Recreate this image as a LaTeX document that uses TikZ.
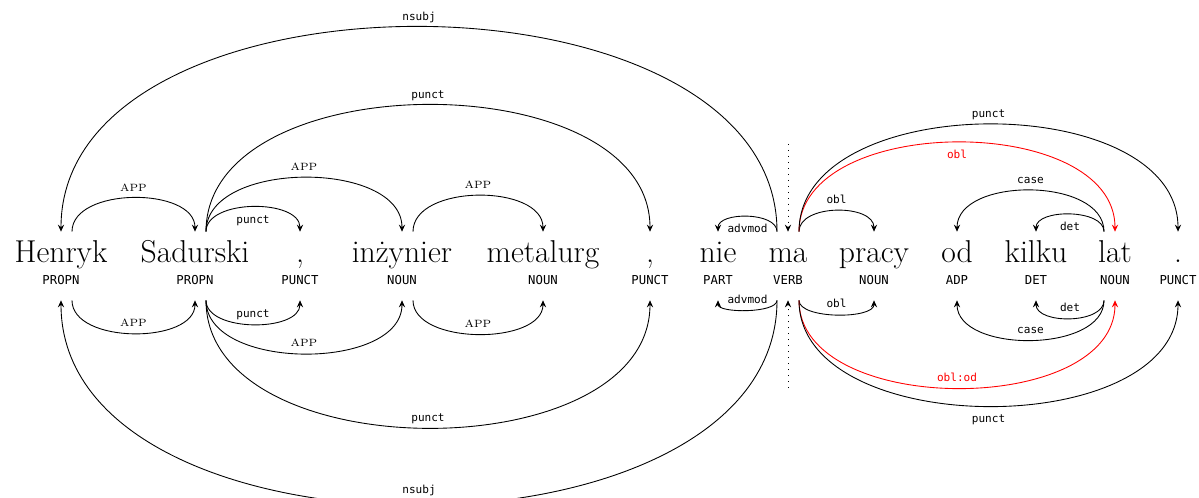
\documentclass[tikz,border=0pt]{standalone}
\usepackage{fontspec}
\newfontfamily\depmono{DejaVu Sans Mono}
\usetikzlibrary{arrows.meta}

\tikzset{
  word/.style={anchor=base, inner sep=0pt, text height=0.62cm, font=\fontsize{18}{21}\selectfont},
  tag/.style={anchor=base, inner sep=0pt, text depth=0.3cm, font=\depmono\fontsize{7}{8}\selectfont},
  dep/.style={line width=0.5pt, -{Stealth[length=4pt,width=3.6pt,inset=1.4pt]}},
  lab/.style={inner sep=2.5pt, text height=1.5ex, text depth=.25ex, font=\depmono\fontsize{6.3}{7}\selectfont},
  applab/.style={inner sep=2.5pt, text height=1.5ex, text depth=.25ex, font=\fontsize{6}{7}\selectfont},
  rootline/.style={dep, dash pattern=on 0.6pt off 2.8pt},
}

\begin{document}
\begin{tikzpicture}[x=0.02cm, y=0.02cm]
    \useasboundingbox (0,0) rectangle (1199,497);

    % palabras
    \node[word] (henryk) at (61,234) {Henryk};
    \node[word] (sadurski) at (195,234) {Sadurski};
    \node[word] (coma1) at (300,234) {,};
    \node[word] (inzynier) at (402,234) {inżynier};
    \node[word] (metalurg) at (543,234) {metalurg};
    \node[word] (coma2) at (650,234) {,};
    \node[word] (nie) at (718,234) {nie};
    \node[word] (ma) at (788,234) {ma};
    \node[word] (pracy) at (874,234) {pracy};
    \node[word] (od) at (957,234) {od};
    \node[word] (kilku) at (1036,234) {kilku};
    \node[word] (lat) at (1115,234) {lat};
    \node[word] (kropka) at (1178,234) {.};

    % etiquetas POS
    \node[tag] (henryk-t) at (61,212) {PROPN};
    \node[tag] (sadurski-t) at (195,212) {PROPN};
    \node[tag] (coma1-t) at (300,212) {PUNCT};
    \node[tag] (inzynier-t) at (402,212) {NOUN};
    \node[tag] (metalurg-t) at (543,212) {NOUN};
    \node[tag] (coma2-t) at (650,212) {PUNCT};
    \node[tag] (nie-t) at (718,212) {PART};
    \node[tag] (ma-t) at (788,212) {VERB};
    \node[tag] (pracy-t) at (874,212) {NOUN};
    \node[tag] (od-t) at (957,212) {ADP};
    \node[tag] (kilku-t) at (1036,212) {DET};
    \node[tag] (lat-t) at (1115,212) {NOUN};
    \node[tag] (kropka-t) at (1178,212) {PUNCT};

    % raiz
    \coordinate (raiz) at (788,353);
    \coordinate (raiz-b) at (788,109);
    \draw[rootline] (raiz) -- (ma.north);
    \draw[rootline] (raiz-b) -- (ma-t.south);

    % arcos superiores
    \draw[dep] ([xshift=.22cm]henryk.north) .. controls +(0,45) and +(0,45) .. (sadurski.north) node[applab, pos=.5, above] (s1) {APP};
    \draw[dep] ([xshift=.22cm]sadurski.north) .. controls +(0,33) and +(0,33) .. (coma1.north) node[lab, pos=.5, below] (s2) {punct};
    \draw[dep] ([xshift=.22cm]sadurski.north) .. controls +(0,72) and +(0,72) .. (inzynier.north) node[applab, pos=.5, above] (s3) {APP};
    \draw[dep] ([xshift=.22cm]inzynier.north) .. controls +(0,48) and +(0,48) .. (metalurg.north) node[applab, pos=.5, above] (s4) {APP};
    \draw[dep] ([xshift=.22cm]sadurski.north) .. controls +(0,169) and +(0,169) .. (coma2.north) node[lab, pos=.5, above] (s5) {punct};
    \draw[dep] ([xshift=-.22cm]ma.north) .. controls +(0,273) and +(0,273) .. (henryk.north) node[lab, pos=.5, above] (s6) {nsubj};
    \draw[dep] ([xshift=-.22cm]ma.north) .. controls +(0,20) and +(0,20) .. (nie.north) node[lab, pos=.5, below] (s7) {advmod};
    \draw[dep] ([xshift=.22cm]ma.north) .. controls +(0,28) and +(0,28) .. (pracy.north) node[lab, pos=.5, above] (s8) {obl};
    \draw[dep, red] ([xshift=.22cm]ma.north) .. controls +(0,119) and +(0,119) .. (lat.north) node[lab, pos=.5, below] (s9) {obl};
    \draw[dep] ([xshift=.22cm]ma.north) .. controls +(0,143) and +(0,143) .. (kropka.north) node[lab, pos=.5, above] (s10) {punct};
    \draw[dep] ([xshift=-.22cm]lat.north) .. controls +(0,55) and +(0,55) .. (od.north) node[lab, pos=.5, above] (s11) {case};
    \draw[dep] ([xshift=-.22cm]lat.north) .. controls +(0,23) and +(0,23) .. (kilku.north) node[lab, pos=.5, below] (s12) {det};

    % arcos inferiores
    \draw[dep] ([xshift=.22cm]henryk-t.south) .. controls +(0,-44) and +(0,-44) .. (sadurski-t.south) node[applab, pos=.5, above] (i1) {APP};
    \draw[dep] ([xshift=.22cm]sadurski-t.south) .. controls +(0,-32) and +(0,-32) .. (coma1-t.south) node[lab, pos=.5, above] (i2) {punct};
    \draw[dep] ([xshift=.22cm]sadurski-t.south) .. controls +(0,-71) and +(0,-71) .. (inzynier-t.south) node[applab, pos=.5, above] (i3) {APP};
    \draw[dep] ([xshift=.22cm]inzynier-t.south) .. controls +(0,-45) and +(0,-45) .. (metalurg-t.south) node[applab, pos=.5, above] (i4) {APP};
    \draw[dep] ([xshift=.22cm]sadurski-t.south) .. controls +(0,-170) and +(0,-170) .. (coma2-t.south) node[lab, pos=.5, above] (i5) {punct};
    \draw[dep] ([xshift=-.22cm]ma-t.south) .. controls +(0,-273) and +(0,-273) .. (henryk-t.south) node[lab, pos=.5, above, yshift=3pt] (i6) {nsubj};
    \draw[dep] ([xshift=-.22cm]ma-t.south) .. controls +(0,-13) and +(0,-13) .. (nie-t.south) node[lab, pos=.5, above] (i7) {advmod};
    \draw[dep] ([xshift=.22cm]ma-t.south) .. controls +(0,-19) and +(0,-19) .. (pracy-t.south) node[lab, pos=.5, above] (i8) {obl};
    \draw[dep, red] ([xshift=.22cm]ma-t.south) .. controls +(0,-117) and +(0,-117) .. (lat-t.south) node[lab, pos=.5, above] (i9) {obl:od};
    \draw[dep] ([xshift=.22cm]ma-t.south) .. controls +(0,-141) and +(0,-141) .. (kropka-t.south) node[lab, pos=.5, below] (i10) {punct};
    \draw[dep] ([xshift=-.22cm]lat-t.south) .. controls +(0,-53) and +(0,-53) .. (od-t.south) node[lab, pos=.5, above] (i11) {case};
    \draw[dep] ([xshift=-.22cm]lat-t.south) .. controls +(0,-24) and +(0,-24) .. (kilku-t.south) node[lab, pos=.5, above] (i12) {det};

\end{tikzpicture}
\end{document}
